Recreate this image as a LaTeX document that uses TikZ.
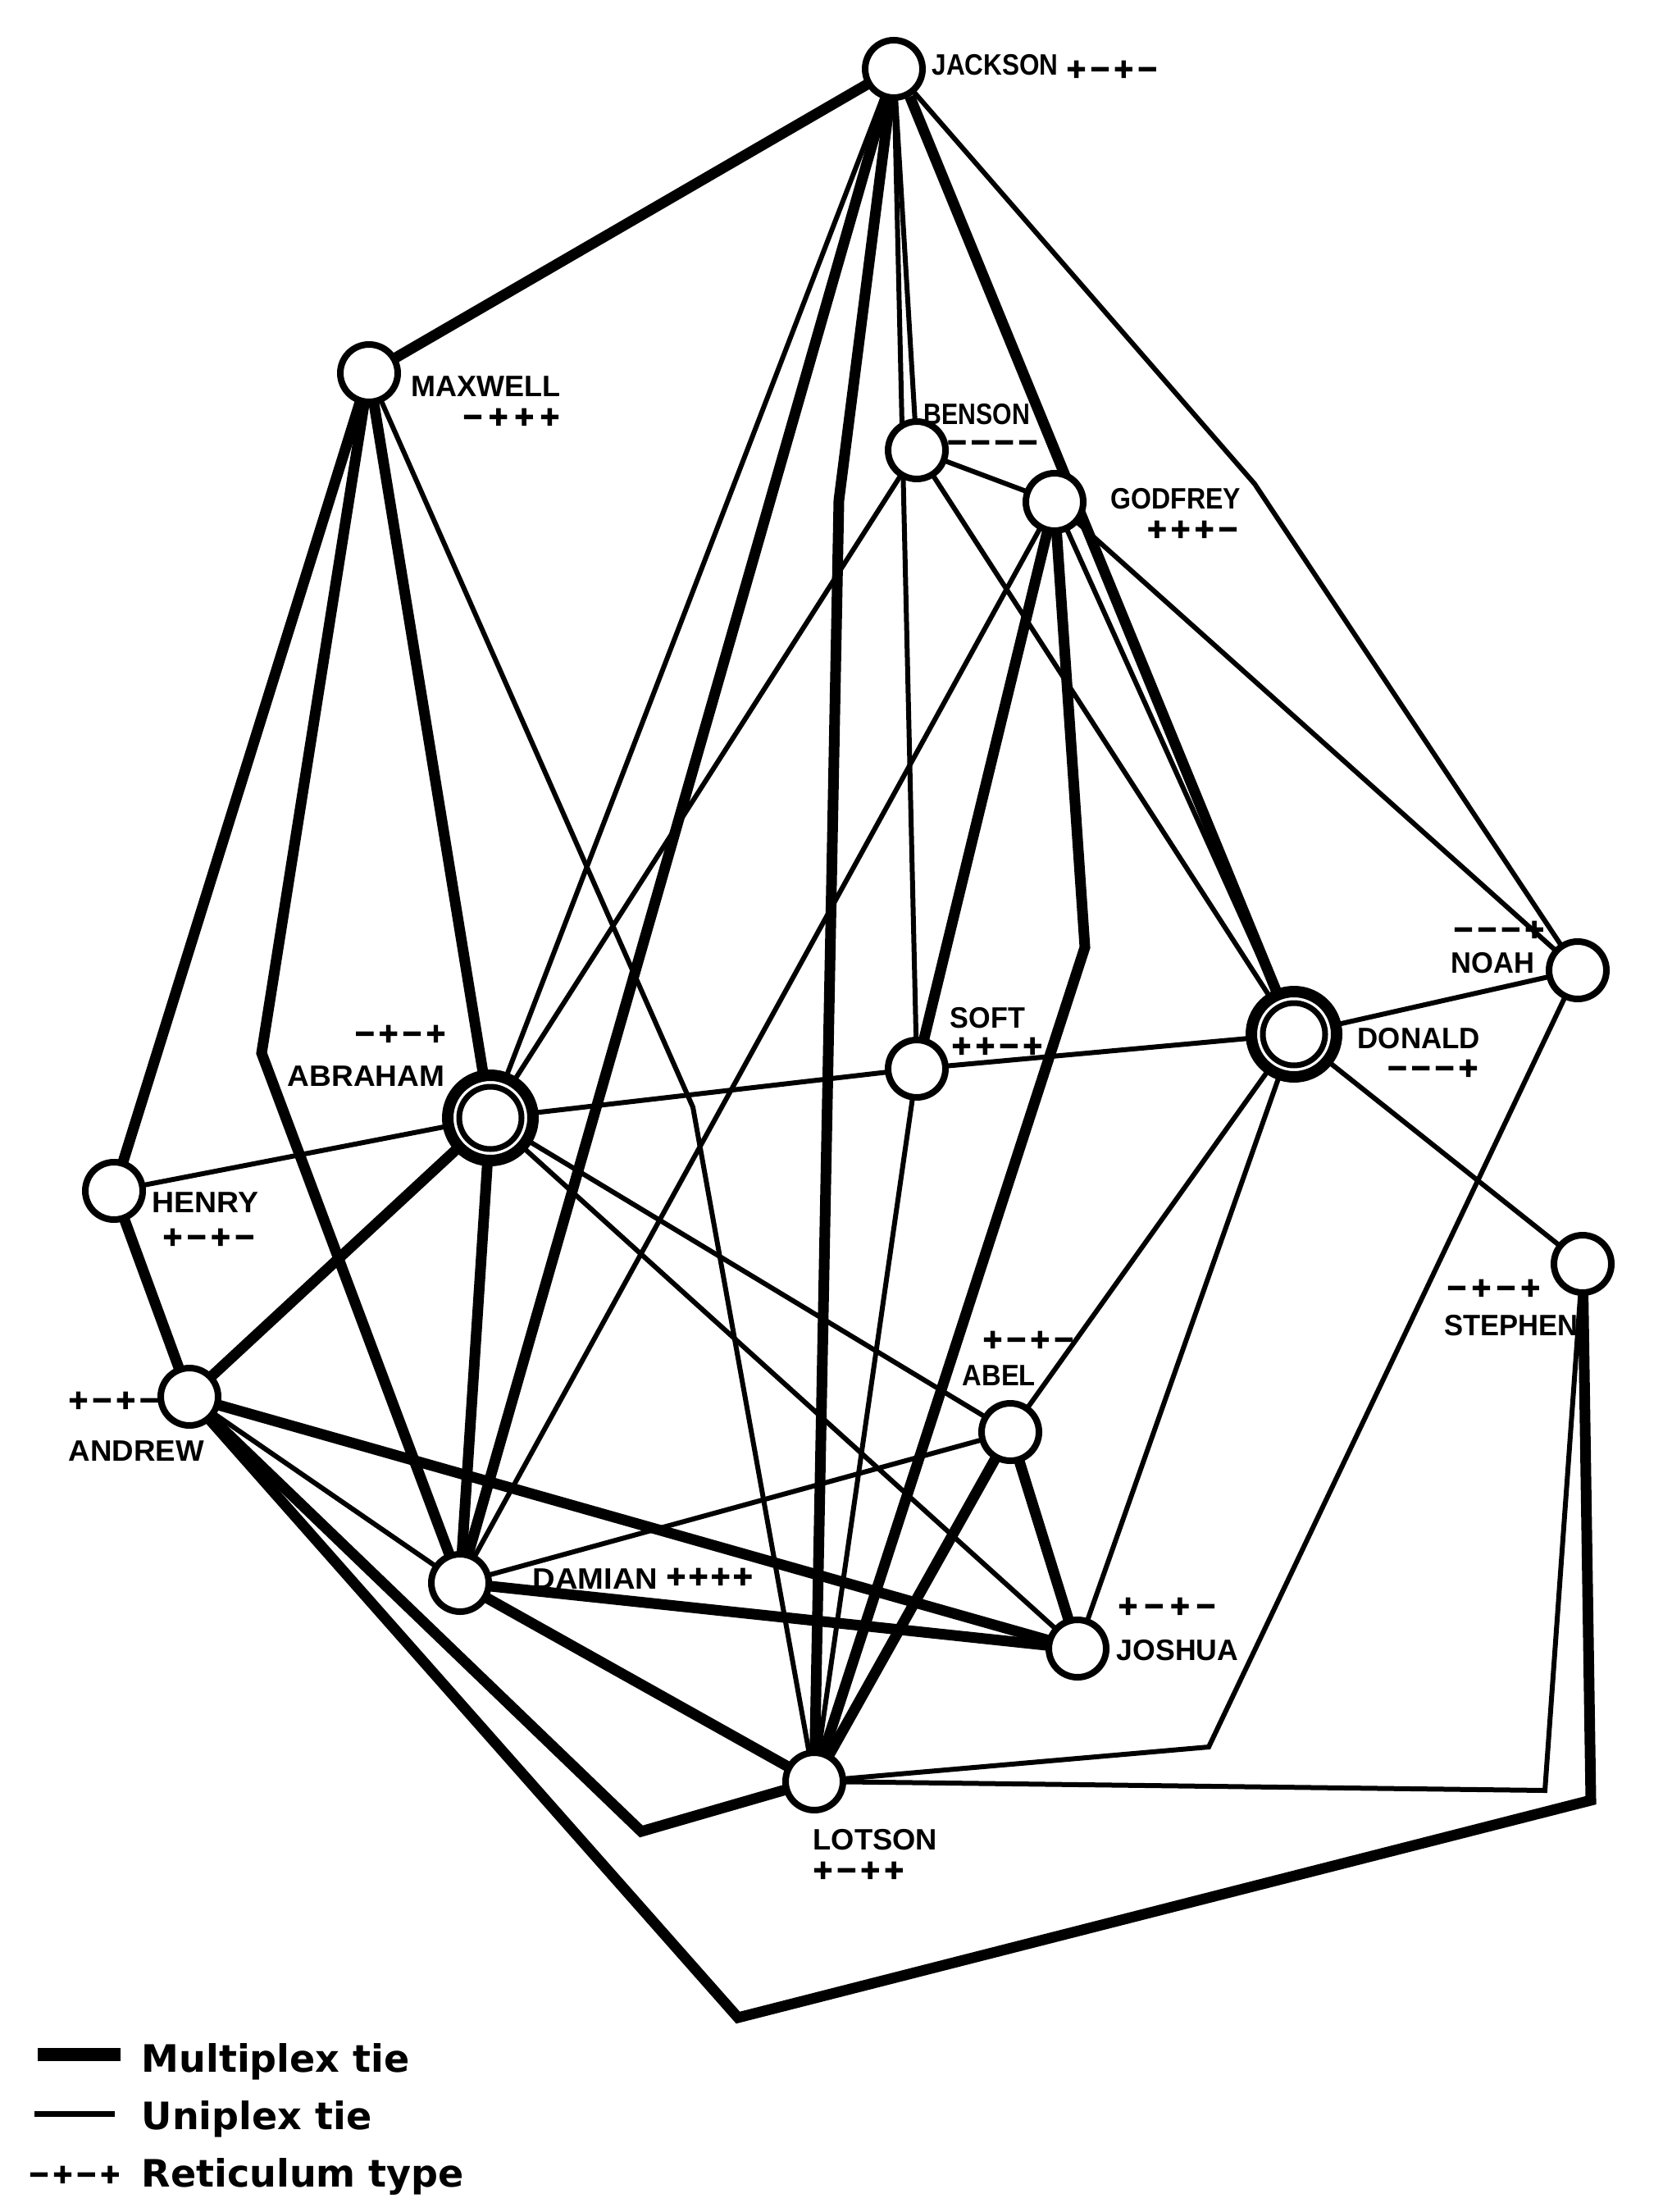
\documentclass[tikz,border=0pt]{standalone}
\usepackage{graphicx}
\usepackage{fontspec}
\newfontfamily\lblfont{Liberation Sans}
\newfontfamily\retfont[FakeBold=2.5]{Liberation Sans}
\newfontfamily\legfont{DejaVu Sans}
\pgfdeclarelayer{bg}
\pgfdeclarelayer{edges}
\pgfsetlayers{bg,edges,main}
\tikzset{
  pnode/.style={circle, draw, fill=white, line width=0.8mm, minimum size=7mm, inner sep=0pt},
  dnode/.style={circle, draw, fill=white, line width=1.4mm, minimum size=10.4mm, inner sep=0pt},
  inring/.style={line width=0.7mm},
  multi/.style={line width=1.3mm, line join=miter},
  uni/.style={line width=0.6mm, line join=miter},
  nm/.style={anchor=base west, inner sep=0pt, font={\lblfont\bfseries\fontsize{10.24pt}{12pt}\selectfont}},
  rt/.style={inner sep=0pt, font={\retfont\bfseries\fontsize{11.5pt}{12pt}\selectfont}},
  leg/.style={anchor=base west, inner sep=0pt, font={\legfont\bfseries\fontsize{13.1pt}{15pt}\selectfont}}
}
\newcommand{\rs}[5]{\vphantom{+}#2\kern#1pt#3\kern#1pt#4\kern#1pt#5}
\newcommand{\sx}[2]{\scalebox{#1}[1]{#2}}
\begin{document}
\begin{tikzpicture}
\useasboundingbox (0,0) rectangle (20.39,-26.97);
\begin{pgfonlayer}{bg}
\fill[white] (0,0) rectangle (20.39,-26.97);
\end{pgfonlayer}

% persons
\node[pnode] (jac) at (10.90,-0.84) {};
\node[pnode] (max) at (4.50,-4.55) {};
\node[pnode] (ben) at (11.18,-5.49) {};
\node[pnode] (god) at (12.86,-6.12) {};
\node[pnode] (noa) at (19.24,-11.83) {};
\node[dnode] (don) at (15.78,-12.61) {};
\draw[inring] (don.center) circle (0.38);
\node[pnode] (sof) at (11.18,-13.03) {};
\node[dnode] (abr) at (5.98,-13.63) {};
\draw[inring] (abr.center) circle (0.38);
\node[pnode] (hen) at (1.39,-14.52) {};
\node[pnode] (ste) at (19.30,-15.41) {};
\node[pnode] (and) at (2.31,-17.03) {};
\node[pnode] (abe) at (12.32,-17.46) {};
\node[pnode] (dam) at (5.61,-19.30) {};
\node[pnode] (jos) at (13.14,-20.10) {};
\node[pnode] (lot) at (9.93,-21.72) {};

% bend points
\coordinate (b1) at (15.30,-5.90);
\coordinate (b2) at (10.23,-6.10);
\coordinate (b3) at (3.19,-12.84);
\coordinate (b4) at (8.45,-13.50);
\coordinate (b5) at (13.23,-11.55);
\coordinate (b6) at (7.82,-22.33);
\coordinate (b7a) at (9.00,-24.60);
\coordinate (b7b) at (19.40,-21.95);
\coordinate (b8) at (14.74,-21.30);
\coordinate (b9) at (18.84,-21.83);

\begin{pgfonlayer}{edges}
% multiplex ties
\draw[multi] (jac.center) -- (max.center);
\draw[multi] (jac.-60) -- (don.center);
\draw[multi] (jac.center) -- (b2) -- (lot.center);
\draw[multi] (jac.center) -- (dam.center);
\draw[multi] (max.center) -- (hen.center);
\draw[multi] (max.center) -- (abr.center);
\draw[multi] (max.center) -- (b3) -- (dam.center);
\draw[multi] (hen.center) -- (and.center);
\draw[multi] (and.center) -- (abr.center);
\draw[multi] (and.center) -- (jos.center);
\draw[multi] (and.center) -- (b6) -- (lot.center);
\draw[multi] (and.center) -- (b7a) -- (b7b) -- (ste.center);
\draw[multi] (abr.center) -- (dam.center);
\draw[multi] (dam.center) -- (jos.center);
\draw[multi] (dam.center) -- (lot.center);
\draw[multi] (god.center) -- (sof.center);
\draw[multi] (god.center) -- (b5) -- (lot.center);
\draw[multi] (abe.center) -- (jos.center);
\draw[multi] (abe.center) -- (lot.center);
% uniplex ties
\draw[uni] (jac.center) -- (b1) -- (noa.center);
\draw[uni] (jac.center) -- (ben.center);
\draw[uni] (jac.center) -- (sof.center);
\draw[uni] (jac.center) -- (abr.center);
\draw[uni] (max.center) -- (b4) -- (lot.center);
\draw[uni] (hen.center) -- (abr.center);
\draw[uni] (and.center) -- (dam.center);
\draw[uni] (abr.center) -- (sof.center);
\draw[uni] (sof.center) -- (don.center);
\draw[uni] (abr.center) -- (ben.center);
\draw[uni] (abr.center) -- (abe.center);
\draw[uni] (abr.center) -- (jos.center);
\draw[uni] (ben.center) -- (god.center);
\draw[uni] (ben.center) -- (don.center);
\draw[uni] (god.center) -- (dam.center);
\draw[uni] (god.center) -- (don.center);
\draw[uni] (god.center) -- (noa.center);
\draw[uni] (sof.center) -- (lot.center);
\draw[uni] (don.center) -- (noa.center);
\draw[uni] (don.center) -- (ste.center);
\draw[uni] (don.center) -- (abe.center);
\draw[uni] (don.center) -- (jos.center);
\draw[uni] (dam.center) -- (abe.center);
\draw[uni] (noa.center) -- (b8) -- (lot.center);
\draw[uni] (ste.center) -- (b9) -- (lot.center);
\end{pgfonlayer}

% names and reticulum types
\node[nm] (tjac) at (11.36,-0.92) {\sx{0.875}{JACKSON}};
\node[rt, anchor=west] (rjac) at (13.00,-0.86) {\rs{1.5}{+}{−}{+}{−}};
\node[nm] (tmax) at (5.01,-4.84) {\sx{1.0}{MAXWELL}};
\node[rt, anchor=east] (rmax) at (6.83,-5.10) {\rs{2.2}{−}{+}{+}{+}};
\node[nm] (tben) at (11.26,-5.18) {\sx{0.84}{BENSON}};
\node[rt, anchor=east] (rben) at (12.66,-5.41) {\rs{1.5}{−}{−}{−}{−}};
\node[nm] (tgod) at (13.54,-6.21) {\sx{0.89}{GODFREY}};
\node[rt, anchor=east] (rgod) at (15.10,-6.47) {\rs{1.5}{+}{+}{+}{−}};
\node[nm] (tnoa) at (17.69,-11.86) {\sx{0.96}{NOAH}};
\node[rt, anchor=west] (rnoa) at (17.72,-11.35) {\rs{1.5}{−}{−}{−}{+}};
\node[nm] (tdon) at (16.55,-12.78) {\sx{0.97}{DONALD}};
\node[rt, anchor=east] (rdon) at (18.03,-13.04) {\rs{1.5}{−}{−}{−}{+}};
\node[nm] (tsof) at (11.58,-12.53) {\sx{0.95}{SOFT}};
\node[rt, anchor=west] (rsof) at (11.60,-12.77) {\rs{1.5}{+}{+}{−}{+}};
\node[nm] (tabr) at (3.50,-13.24) {\sx{1.03}{ABRAHAM}};
\node[rt, anchor=east] (rabr) at (5.44,-12.62) {\rs{1.5}{−}{+}{−}{+}};
\node[nm] (then) at (1.85,-14.78) {\sx{1.04}{HENRY}};
\node[rt, anchor=west] (rhen) at (1.98,-15.10) {\rs{1.6}{+}{−}{+}{−}};
\node[nm] (tste) at (17.61,-16.28) {\sx{0.96}{STEPHEN}};
\node[rt, anchor=west] (rste) at (17.64,-15.72) {\rs{1.8}{−}{+}{−}{+}};
\node[nm] (tand) at (0.83,-17.81) {\sx{1.02}{ANDREW}};
\node[rt, anchor=west] (rand) at (0.83,-17.09) {\rs{1.5}{+}{−}{+}{−}};
\node[nm] (tabe) at (11.73,-16.89) {\sx{0.91}{ABEL}};
\node[rt, anchor=west] (rabe) at (11.98,-16.35) {\rs{1.5}{+}{−}{+}{−}};
\node[nm] (tjos) at (13.61,-20.24) {\sx{0.99}{JOSHUA}};
\node[rt, anchor=west] (rjos) at (13.63,-19.60) {\rs{2.3}{+}{−}{+}{−}};
\node[nm] (tdam) at (6.49,-19.37) {\sx{1.06}{DAMIAN}};
\node[rt, anchor=west] (rdam) at (8.12,-19.24) {\rs{1.0}{+}{+}{+}{+}};
\node[nm] (tlot) at (9.91,-22.55) {\sx{1.01}{LOTSON}};
\node[rt, anchor=west] (rlot) at (9.91,-22.82) {\rs{1.5}{+}{−}{+}{+}};

% legend
\coordinate (lma) at (0.46,-25.05);
\coordinate (lmb) at (1.47,-25.05);
\coordinate (lua) at (0.42,-25.77);
\coordinate (lub) at (1.40,-25.77);
\draw[line width=1.6mm] (lma) -- (lmb);
\draw[line width=0.7mm] (lua) -- (lub);
\node[rt, anchor=west] (lrt) at (0.35,-26.53) {\rs{1.5}{−}{+}{−}{+}};
\node[leg] (l1) at (1.72,-25.26) {Multiplex tie};
\node[leg] (l2) at (1.72,-25.96) {Uniplex tie};
\node[leg] (l3) at (1.72,-26.66) {Reticulum type};
\end{tikzpicture}
\end{document}
